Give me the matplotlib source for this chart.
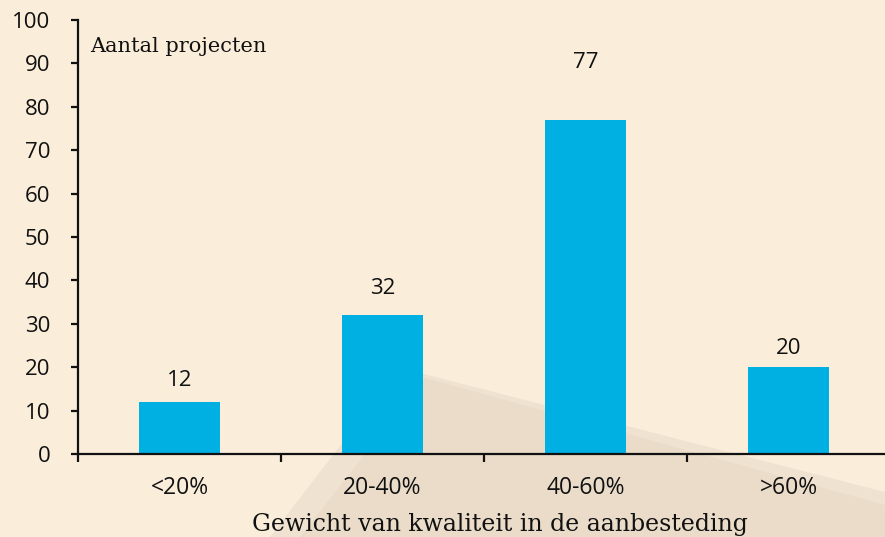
import numpy as np
import matplotlib.pyplot as plt
from matplotlib.patches import Polygon

categories = ['<20%', '20-40%', '40-60%', '>60%']
counts = [12, 32, 77, 20]
label_lift = [5.0, 6.2, 13.1, 4.4]   # how far above each bar the number sits

bg = '#FAEEDB'
bar_color = '#00B0E3'
ink = '#111111'

fig = plt.figure(figsize=(8.85, 5.37), dpi=100, facecolor=bg)

# soft diagonal shadow in the background (two layers to fake a blurred edge)
W, H = 885, 537
def px(pts):
    return [(a / W, 1 - b / H) for a, b in pts]

outer = Polygon(px([(270, 537), (400, 368), (885, 492), (885, 537)]), closed=True,
                transform=fig.transFigure, facecolor='#EFE2D0', edgecolor='none', zorder=-2)
inner = Polygon(px([(300, 537), (425, 378), (885, 505), (885, 537)]), closed=True,
                transform=fig.transFigure, facecolor='#EADCC9', edgecolor='none', zorder=-1)
fig.patches.extend([outer, inner])

ax = fig.add_axes([78 / W, 83 / H, 807 / W, 434 / H])
ax.set_zorder(1)
ax.patch.set_alpha(0)

x = np.arange(len(categories))
ax.bar(x, counts, width=0.4, color=bar_color, zorder=2)
for xi, v, lift in zip(x, counts, label_lift):
    ax.text(xi, v + lift, str(v), ha='center', va='center',
            fontsize=16, family='Open Sans', color=ink)

ax.set_xlim(-0.5, 3.475)
ax.set_ylim(0, 100)
ax.set_yticks(range(0, 101, 10))
ax.set_xticks(x)
ax.set_xticklabels(categories)
ax.set_xticks([-0.5, 0.5, 1.5, 2.5], minor=True)

for s in ['top', 'right']:
    ax.spines[s].set_visible(False)
for s in ['left', 'bottom']:
    ax.spines[s].set_linewidth(1.6)
    ax.spines[s].set_color(ink)

ax.tick_params(axis='y', length=5, width=1.6, pad=15, labelsize=16, colors=ink)
ax.tick_params(axis='x', which='major', length=0, pad=16, labelsize=16.5, colors=ink)
ax.tick_params(axis='x', which='minor', length=6, width=1.6, color=ink)
for lab in ax.get_xticklabels() + ax.get_yticklabels():
    lab.set_family('Open Sans')

fig.text(90 / W, 1 - 47 / H, 'Aantal projecten',
         ha='left', va='center', fontsize=15, family='DejaVu Serif', color=ink)
fig.text(500 / W, 1 - 524 / H, 'Gewicht van kwaliteit in de aanbesteding',
         ha='center', va='center', fontsize=17, family='DejaVu Serif', color=ink)

fig.savefig('out.png', dpi=100, facecolor=bg)
